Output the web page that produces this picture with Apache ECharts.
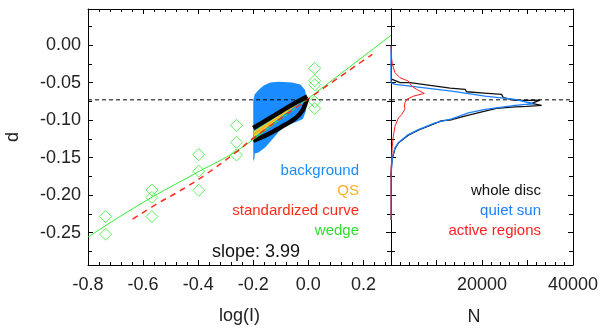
<!DOCTYPE html>
<html>
<head>
<meta charset="utf-8">
<script src="https://cdn.jsdelivr.net/npm/echarts@6/dist/echarts.min.js"></script>
<style>
  html, body { margin: 0; padding: 0; background: #fff; }
  #chart { width: 605px; height: 335px; }
</style>
</head>
<body>
<div id="chart"></div>
<script>
// ---- data ----
// left panel: log(I) vs d
const blobOutline = [[-0.200,-0.0735],[-0.195,-0.066],[-0.181,-0.0600],[-0.162,-0.0540],[-0.138,-0.0500],
  [-0.108,-0.0489],[-0.059,-0.0500],[-0.029,-0.0525],[-0.012,-0.0600],[-0.005,-0.0748],[-0.009,-0.0881],
  [-0.020,-0.0985],[-0.047,-0.1030],[-0.084,-0.1080],[-0.108,-0.1160],[-0.132,-0.1260],[-0.156,-0.1360],
  [-0.181,-0.1430],[-0.195,-0.1445],[-0.195,-0.1500],[-0.200,-0.1550]];
const wedgeUpper = [[-0.200,-0.1105],[-0.15,-0.0995],[-0.1,-0.0885],[-0.05,-0.0775],[-0.004,-0.0685]];
const wedgeLower = [[-0.200,-0.1275],[-0.15,-0.1195],[-0.1,-0.1095],[-0.047,-0.0975],[-0.02,-0.0865],[-0.004,-0.0705]];
const qsOuter = [[-0.198,-0.1145],[-0.003,-0.0685],[-0.198,-0.1235]];
const qsMid = [[-0.198,-0.1155],[-0.003,-0.0690],[-0.198,-0.1225]];
const qsInner = [[-0.198,-0.1170],[-0.003,-0.0692],[-0.198,-0.1210]];
const wedgeFit = [[-0.8,-0.2558],[-0.6,-0.2096],[-0.4,-0.1690],[-0.26,-0.1410],[-0.1,-0.0985],[0.0,-0.0710],[0.3,0.0129]];
const standardCurve = [[-0.638,-0.232],[-0.547,-0.211],[-0.475,-0.196],[-0.379,-0.174],[-0.26,-0.142],
  [-0.2,-0.124],[0.0,-0.0716],[0.232,-0.0124]];
const wedgePoints = [[-0.736,-0.2285],[-0.736,-0.2520],[-0.568,-0.1932],[-0.568,-0.2030],[-0.568,-0.2285],
  [-0.398,-0.1460],[-0.398,-0.1680],[-0.398,-0.1935],[-0.261,-0.107],[-0.261,-0.1295],[-0.261,-0.1465],
  [0.023,-0.0310],[0.023,-0.0475],[0.023,-0.0530],[0.023,-0.0755],[0.023,-0.0845]];
const refLevel = -0.073;

// right panel: histograms N vs d
const wholeDisc = [[0,-0.045],[2000,-0.050],[4200,-0.0502],[9000,-0.054],[13000,-0.0575],[16300,-0.0591],
  [16600,-0.0622],[20500,-0.064],[24300,-0.0658],[24700,-0.0702],[27300,-0.0738],[30000,-0.0737],
  [32750,-0.0734],[30900,-0.0778],[33100,-0.0805],[29800,-0.0818],[27300,-0.0825],[23200,-0.0845],
  [20660,-0.0881],[16630,-0.0939],[13340,-0.0995],[11000,-0.101],[9700,-0.1045],[6000,-0.1135],
  [3800,-0.1200],[1610,-0.1305],[880,-0.138],[300,-0.151],[100,-0.162],[0,-0.175]];
const quietSun = [[0,-0.001],[0,-0.050],[900,-0.0525],[6000,-0.056],[13340,-0.0614],[20660,-0.0681],
  [27255,-0.0725],[31300,-0.0782],[29000,-0.0795],[27255,-0.0805],[20660,-0.0858],[17000,-0.0903],
  [13340,-0.0983],[9671,-0.1036],[6000,-0.1126],[3810,-0.1193],[1610,-0.1303],[879,-0.137],
  [290,-0.150],[150,-0.1615],[0,-0.175],[0,-0.233]];
const activeRegions = [[0,-0.001],[150,-0.019],[300,-0.0258],[880,-0.0369],[1980,-0.0436],[3810,-0.048],
  [4540,-0.0547],[5640,-0.0591],[7330,-0.0645],[4910,-0.0681],[3440,-0.0725],[3080,-0.0769],[2930,-0.0810],
  [3080,-0.0850],[2350,-0.0925],[1600,-0.0975],[1245,-0.1000],[880,-0.108],[510,-0.1214],[290,-0.135],
  [150,-0.150],[0,-0.17],[0,-0.233]];

const FONT = '"Liberation Sans", Arial, Helvetica, sans-serif';
const BLUE = '#1a8cff', ORANGE = '#ffb020', RED = '#ff2a1a', GREEN = '#33ee33';

function polygon(points, color) {
    return {
        type: 'custom', xAxisIndex: 0, yAxisIndex: 0, silent: true,
        data: [points[0]],
        renderItem: function (params, api) {
            return {
                type: 'polygon',
                shape: { points: points.map(p => api.coord(p)) },
                style: { fill: color }
            };
        }
    };
}

function xAx(grid, pos, min, max, interval, labels, fmt) {
    return {
        type: 'value', gridIndex: grid, position: pos, min: min, max: max, interval: interval,
        axisLine: { show: true, onZero: false, lineStyle: { color: '#000', width: 1 } },
        axisTick: { show: true, inside: true, length: 5, lineStyle: { color: '#000' } },
        minorTick: { show: true, splitNumber: 5, length: 3, lineStyle: { color: '#000' } },
        splitLine: { show: false },
        axisLabel: { show: labels, margin: 11, color: '#222', fontSize: 18, fontFamily: FONT,
            formatter: fmt, showMaxLabel: grid === 1, showMinLabel: grid === 0 }
    };
}
function yAx(grid, pos, labels) {
    return {
        type: 'value', gridIndex: grid, position: pos, min: -0.293, max: 0.048, splitNumber: 5,
        axisLine: { show: true, onZero: false, lineStyle: { color: '#000', width: 1 } },
        axisTick: { show: true, inside: true, length: 5, lineStyle: { color: '#000' } },
        minorTick: { show: true, splitNumber: 2, length: 4, lineStyle: { color: '#000' } },
        splitLine: { show: false },
        axisLabel: { show: labels, margin: 7, color: '#222', fontSize: 18, fontFamily: FONT,
            showMinLabel: false, showMaxLabel: false, formatter: v => v.toFixed(2) }
    };
}

const xAxes = [
    xAx(0, 'bottom', -0.8, 0.3, 0.2, true, v => v.toFixed(1)),
    xAx(0, 'top', -0.8, 0.3, 0.2, false),
    xAx(1, 'bottom', 0, 40000, 10000, true, v => (v === 20000 || v === 40000) ? String(v) : ''),
    xAx(1, 'top', 0, 40000, 10000, false)
];
xAxes[0].name = 'log(I)';
xAxes[0].nameLocation = 'middle';
xAxes[0].nameGap = 42;
xAxes[0].nameTextStyle = { color: '#222', fontSize: 18, fontFamily: FONT };
xAxes[0].axisLabel.showMaxLabel = false;

const yAxes = [yAx(0, 'left', true), yAx(0, 'right', false), yAx(1, 'left', false), yAx(1, 'right', false)];
yAxes[0].name = 'd';
yAxes[0].nameLocation = 'middle';
yAxes[0].nameGap = 66;
yAxes[0].nameTextStyle = { color: '#222', fontSize: 18, fontFamily: FONT };

const dashed = { color: '#000', width: 1, type: [4, 3] };

const option = {
    animation: false,
    backgroundColor: '#fff',
    grid: [
        { left: 88, top: 9, width: 303, height: 256, containLabel: false, outerBoundsMode: 'none' },
        { left: 391, top: 9, width: 182, height: 256, containLabel: false, outerBoundsMode: 'none' }
    ],
    xAxis: xAxes,
    yAxis: yAxes,
    series: [
        polygon(blobOutline, BLUE),
        { type: 'line', xAxisIndex: 0, yAxisIndex: 0, data: wedgeUpper, smooth: 0.3, showSymbol: false,
          lineStyle: { color: '#000', width: 4.5 } },
        { type: 'line', xAxisIndex: 0, yAxisIndex: 0, data: wedgeLower, smooth: 0.3, showSymbol: false,
          lineStyle: { color: '#000', width: 4.5 } },
        polygon(qsOuter, '#4ee04e'),
        polygon(qsMid, '#f2e23a'),
        polygon(qsInner, ORANGE),
        { type: 'line', xAxisIndex: 0, yAxisIndex: 0, data: wedgeFit, smooth: 0.4, showSymbol: false,
          lineStyle: { color: GREEN, width: 1 } },
        { type: 'line', xAxisIndex: 0, yAxisIndex: 0, data: standardCurve, smooth: 0.4, showSymbol: false,
          lineStyle: { color: RED, width: 1.5, type: [6, 5] } },
        { type: 'scatter', xAxisIndex: 0, yAxisIndex: 0, data: wedgePoints, symbol: 'diamond', symbolSize: [12, 12],
          itemStyle: { color: 'rgba(0,0,0,0)', borderColor: GREEN, borderWidth: 1 } },
        { type: 'line', xAxisIndex: 0, yAxisIndex: 0, data: [[-0.8, refLevel], [0.3, refLevel]], showSymbol: false,
          lineStyle: dashed },
        { type: 'line', xAxisIndex: 2, yAxisIndex: 2, data: [[0, refLevel], [40000, refLevel]], showSymbol: false,
          lineStyle: dashed },
        { type: 'line', xAxisIndex: 2, yAxisIndex: 2, data: wholeDisc, showSymbol: false,
          lineStyle: { color: '#111', width: 1.3 } },
        { type: 'line', xAxisIndex: 2, yAxisIndex: 2, data: quietSun, showSymbol: false,
          lineStyle: { color: '#1a7fff', width: 1.3 } },
        { type: 'line', xAxisIndex: 2, yAxisIndex: 2, data: activeRegions, showSymbol: false,
          lineStyle: { color: '#ff2020', width: 1 } }
    ],
    graphic: [
        { type: 'text', x: 359, y: 171, style: { text: 'background', fill: BLUE, font: '15px ' + FONT, textAlign: 'right', textVerticalAlign: 'middle' } },
        { type: 'text', x: 359, y: 191, style: { text: 'QS', fill: ORANGE, font: '15px ' + FONT, textAlign: 'right', textVerticalAlign: 'middle' } },
        { type: 'text', x: 359, y: 211, style: { text: 'standardized curve', fill: RED, font: '15px ' + FONT, textAlign: 'right', textVerticalAlign: 'middle' } },
        { type: 'text', x: 359, y: 231, style: { text: 'wedge', fill: '#2ee02e', font: '15px ' + FONT, textAlign: 'right', textVerticalAlign: 'middle' } },
        { type: 'text', x: 256, y: 252, style: { text: 'slope: 3.99', fill: '#111', font: '18px ' + FONT, textAlign: 'center', textVerticalAlign: 'middle' } },
        { type: 'text', x: 541, y: 191, style: { text: 'whole disc', fill: '#111', font: '15px ' + FONT, textAlign: 'right', textVerticalAlign: 'middle' } },
        { type: 'text', x: 541, y: 211, style: { text: 'quiet sun', fill: '#1a7fff', font: '15px ' + FONT, textAlign: 'right', textVerticalAlign: 'middle' } },
        { type: 'text', x: 541, y: 231, style: { text: 'active regions', fill: '#ff2020', font: '15px ' + FONT, textAlign: 'right', textVerticalAlign: 'middle' } },
        { type: 'text', x: 474, y: 317, style: { text: 'N', fill: '#222', font: '18px ' + FONT, textAlign: 'center', textVerticalAlign: 'middle' } }
    ]
};

const chart = echarts.init(document.getElementById('chart'));
chart.setOption(option);
</script>
</body>
</html>
